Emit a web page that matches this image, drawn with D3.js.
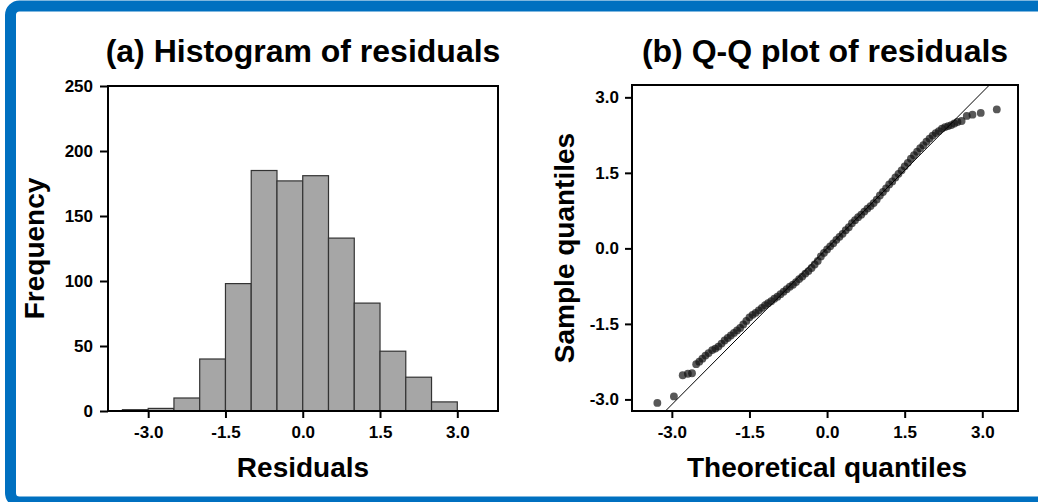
<!DOCTYPE html>
<html>
<head>
<meta charset="utf-8">
<script src="https://cdn.jsdelivr.net/npm/d3@7"></script>
<style>
  body { margin: 0; background: #fff; }
  svg { display: block; font-family: "Liberation Sans", Arial, sans-serif; }
  .box { fill: none; stroke: #000; stroke-width: 2; }
  .axis text { font-size: 17px; font-weight: bold; fill: #000; }
  .axis line { stroke: #000; stroke-width: 2; }
  .title { font-size: 32px; font-weight: bold; text-anchor: middle; }
  .label { font-size: 28px; font-weight: bold; text-anchor: middle; }
</style>
</head>
<body>
<script>
// ----- DATA -----
var histEdges = [-3.5, -3.0, -2.5, -2.0, -1.5, -1.0, -0.5, 0.0, 0.5, 1.0, 1.5, 2.0, 2.5, 3.0];
var histCounts = [1, 2, 10, 40, 98, 185, 177, 181, 133, 83, 46, 26, 7];
var histXTicks = [-3.0, -1.5, 0.0, 1.5, 3.0];
var histYTicks = [0, 50, 100, 150, 200, 250];

var qqTicks = [-3.0, -1.5, 0.0, 1.5, 3.0];
var qqTheoretical = [
  -3.28, -2.96, -2.79, -2.69, -2.61, -2.53, -2.47, -2.41, -2.35, -2.29,
  -2.22, -2.16, -2.10, -2.04, -1.98, -1.92, -1.86, -1.80, -1.74, -1.68,
  -1.62, -1.56, -1.50, -1.44, -1.38, -1.32, -1.26, -1.20, -1.14, -1.08,
  -1.02, -0.96, -0.90, -0.84, -0.78, -0.72, -0.66, -0.60, -0.54, -0.48,
  -0.42, -0.36, -0.30, -0.24, -0.18, -0.12, -0.06, 0.00, 0.06, 0.12,
  0.18, 0.24, 0.30, 0.36, 0.42, 0.48, 0.54, 0.60, 0.66, 0.72,
  0.78, 0.84, 0.90, 0.96, 1.02, 1.08, 1.14, 1.20, 1.26, 1.32,
  1.38, 1.44, 1.50, 1.56, 1.62, 1.68, 1.74, 1.80, 1.86, 1.92,
  1.98, 2.04, 2.10, 2.16, 2.22, 2.28, 2.34,
  2.40, 2.46, 2.52, 2.60, 2.70, 2.81, 2.97, 3.28
];
var qqSample = [
  -3.07, -2.94, -2.52, -2.49, -2.48, -2.30, -2.25, -2.19, -2.13, -2.08,
  -2.02, -1.99, -1.95, -1.89, -1.83, -1.78, -1.73, -1.68, -1.63, -1.58,
  -1.51, -1.44, -1.37, -1.32, -1.28, -1.23, -1.18, -1.13, -1.09, -1.05,
  -1.00, -0.96, -0.91, -0.86, -0.81, -0.76, -0.72, -0.67, -0.61, -0.56,
  -0.50, -0.45, -0.39, -0.32, -0.25, -0.16, -0.09, -0.02, 0.04, 0.10,
  0.17, 0.23, 0.29, 0.36, 0.42, 0.50, 0.56, 0.62, 0.67, 0.73,
  0.79, 0.84, 0.90, 0.97, 1.05, 1.12, 1.19, 1.27, 1.33, 1.41,
  1.48, 1.55, 1.63, 1.70, 1.78, 1.85, 1.92, 1.99, 2.05, 2.12,
  2.18, 2.24, 2.29, 2.33, 2.38, 2.41, 2.43,
  2.45, 2.48, 2.51, 2.53, 2.63, 2.655, 2.69, 2.76
];
var qqLineIntercept = 0.0;
var qqLineSlope = 1.034;

// ----- LAYOUT -----
var W = 1038, H = 502;
var fmt = function(d) { return d.toFixed(1); };

var svg = d3.select("body").append("svg")
  .attr("width", W)
  .attr("height", H);

svg.append("rect").attr("width", W).attr("height", H).attr("fill", "#fff");

// blue frame (cut off on the right)
svg.append("rect")
  .attr("x", 10.5).attr("y", 6)
  .attr("width", 1200).attr("height", 496)
  .attr("rx", 9)
  .attr("fill", "none")
  .attr("stroke", "#0070c0")
  .attr("stroke-width", 11);

// ===== (a) HISTOGRAM =====
var pa = {left: 108, top: 86, width: 390, height: 325};
var ga = svg.append("g").attr("transform", "translate(" + pa.left + "," + pa.top + ")");

var xa = d3.scaleLinear().domain([-3.78, 3.79]).range([0, pa.width]);
var ya = d3.scaleLinear().domain([0, 250]).range([pa.height, 0]);

var bins = histCounts.map(function(c, i) {
  return {x0: histEdges[i], x1: histEdges[i + 1], n: c};
});

ga.selectAll("rect.bar")
  .data(bins)
  .enter().append("rect")
  .attr("class", "bar")
  .attr("x", function(d) { return xa(d.x0); })
  .attr("y", function(d) { return ya(d.n); })
  .attr("width", function(d) { return xa(d.x1) - xa(d.x0); })
  .attr("height", function(d) { return ya(0) - ya(d.n); })
  .attr("fill", "#a6a6a6")
  .attr("stroke", "#333")
  .attr("stroke-width", 1.2);

ga.append("g")
  .attr("class", "axis")
  .call(d3.axisLeft(ya).tickValues(histYTicks).tickFormat(d3.format("d")).tickSize(8).tickPadding(7))
  .call(function(g) { g.select(".domain").remove(); });

ga.append("g")
  .attr("class", "axis")
  .attr("transform", "translate(0," + pa.height + ")")
  .call(d3.axisBottom(xa).tickValues(histXTicks).tickFormat(fmt).tickSize(7).tickPadding(8))
  .call(function(g) { g.select(".domain").remove(); });

ga.append("rect").attr("class", "box")
  .attr("width", pa.width).attr("height", pa.height);

svg.append("text").attr("class", "title")
  .attr("x", pa.left + pa.width / 2).attr("y", 62)
  .text("(a) Histogram of residuals");

svg.append("text").attr("class", "label")
  .attr("x", pa.left + pa.width / 2).attr("y", 477)
  .text("Residuals");

svg.append("text").attr("class", "label")
  .attr("transform", "translate(44," + (pa.top + pa.height / 2) + ") rotate(-90)")
  .text("Frequency");

// ===== (b) Q-Q PLOT =====
var pb = {left: 632, top: 85, width: 386, height: 326};
var gb = svg.append("g").attr("transform", "translate(" + pb.left + "," + pb.top + ")");

var xb = d3.scaleLinear().domain([-3.77, 3.69]).range([0, pb.width]);
var yb = d3.scaleLinear().domain([-3.23, 3.245]).range([pb.height, 0]);

gb.append("clipPath").attr("id", "clipb")
  .append("rect").attr("width", pb.width).attr("height", pb.height);

var qq = qqTheoretical.map(function(t, i) { return {t: t, s: qqSample[i]}; });

gb.append("g")
  .attr("clip-path", "url(#clipb)")
  .selectAll("circle")
  .data(qq)
  .enter().append("circle")
  .attr("cx", function(d) { return xb(d.t); })
  .attr("cy", function(d) { return yb(d.s); })
  .attr("r", 3.9)
  .attr("fill", "#111")
  .attr("fill-opacity", 0.7);

var xd = xb.domain();
gb.append("line")
  .attr("clip-path", "url(#clipb)")
  .attr("x1", xb(xd[0])).attr("y1", yb(qqLineIntercept + qqLineSlope * xd[0]))
  .attr("x2", xb(xd[1])).attr("y2", yb(qqLineIntercept + qqLineSlope * xd[1]))
  .attr("stroke", "#000")
  .attr("stroke-width", 1);

gb.append("g")
  .attr("class", "axis")
  .call(d3.axisLeft(yb).tickValues(qqTicks).tickFormat(fmt).tickSize(7).tickPadding(6))
  .call(function(g) { g.select(".domain").remove(); });

gb.append("g")
  .attr("class", "axis")
  .attr("transform", "translate(0," + pb.height + ")")
  .call(d3.axisBottom(xb).tickValues(qqTicks).tickFormat(fmt).tickSize(7).tickPadding(8))
  .call(function(g) { g.select(".domain").remove(); });

gb.append("rect").attr("class", "box")
  .attr("width", pb.width).attr("height", pb.height);

svg.append("text").attr("class", "title")
  .attr("x", pb.left + pb.width / 2).attr("y", 62)
  .text("(b) Q-Q plot of residuals");

svg.append("text").attr("class", "label")
  .attr("x", pb.left + pb.width / 2 + 2).attr("y", 477)
  .text("Theoretical quantiles");

svg.append("text").attr("class", "label")
  .attr("transform", "translate(574," + (pb.top + pb.height / 2) + ") rotate(-90)")
  .text("Sample quantiles");
</script>
</body>
</html>
